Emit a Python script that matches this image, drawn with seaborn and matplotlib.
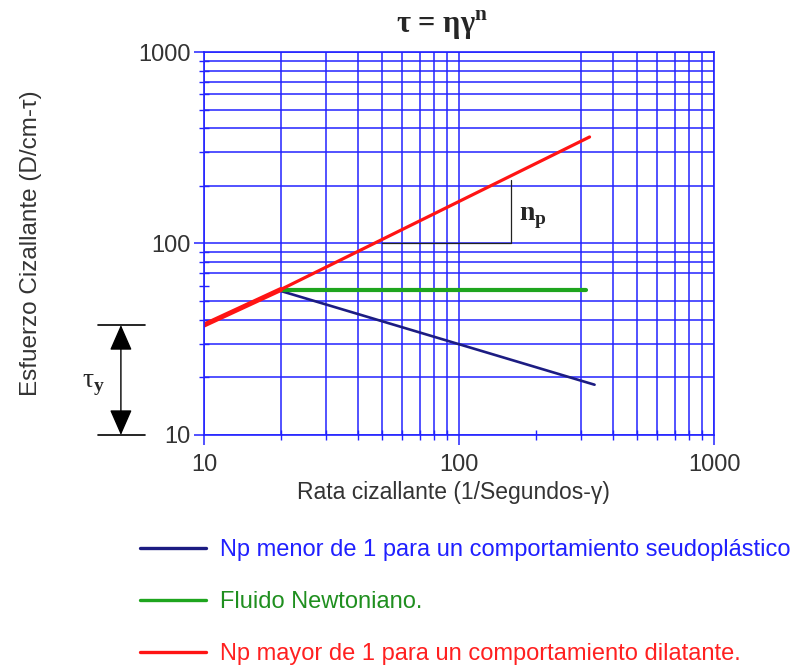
"""Curvas de flujo tau = eta * gamma^n en escala log-log."""

import matplotlib
matplotlib.use("Agg")
import matplotlib.pyplot as plt
import matplotlib.transforms as mtransforms
import numpy as np
import seaborn as sns

# Valores (ejes logarítmicos)
X_SEUDO = [20, 340]
Y_SEUDO = [56.5, 18.3]
X_NEWTON = [20, 316]
Y_NEWTON = [57.5, 57.5]
X_DILAT = [10, 20, 325]
Y_DILAT = [37.5, 57.5, 360]
NP_X = [50, 160, 160]          # triángulo de la pendiente n_p
NP_Y = [100, 100, 215]
TAU_Y = [10, 37.5]             # extremos de la cota tau_y
TICKS = [10, 100, 1000]
TICK_LABELS = ["10", "100", "1000"]
LEYENDA = [
    "Np menor de 1 para un comportamiento seudoplástico",
    "Fluido Newtoniano.",
    "Np mayor de 1 para un comportamiento dilatante.",
]

AZUL = "#2323ff"
GRIS = "#333333"

sns.set_theme(style="white")
plt.rcParams["font.family"] = ["Liberation Sans", "DejaVu Sans"]
plt.rcParams["mathtext.fontset"] = "custom"
plt.rcParams["mathtext.rm"] = "Liberation Serif"
plt.rcParams["mathtext.bf"] = "Liberation Serif:bold"

fig, ax = plt.subplots(figsize=(8.09, 6.65), dpi=100)
fig.subplots_adjust(left=0.2522, right=0.8826, bottom=0.3459, top=0.9218)

ax.set(xscale="log", yscale="log", xlim=(10, 1000), ylim=(10, 1000))

sns.lineplot(x=X_SEUDO, y=Y_SEUDO, color="#1c1c82", linewidth=1.9,
             sort=False, estimator=None, label=LEYENDA[0], ax=ax)
sns.lineplot(x=X_NEWTON, y=Y_NEWTON, color="#1ea51e", linewidth=3.0,
             sort=False, estimator=None, label=LEYENDA[1], ax=ax)
sns.lineplot(x=X_DILAT, y=Y_DILAT, color="#ff1414", linewidth=2.3,
             sort=False, estimator=None, label=LEYENDA[2], ax=ax)
# tramo inicial más grueso (trazado a mano en el original)
ax.plot(X_DILAT[:2], Y_DILAT[:2], color="#ff1414", lw=3.6)
ax.plot(NP_X, NP_Y, color="#222222", lw=0.9)

# rejilla azul tipo papel log-log
ax.grid(which="both", color=AZUL, lw=1.1)
ax.set_axisbelow(True)
for sp in ax.spines.values():
    sp.set_color(AZUL); sp.set_linewidth(1.2)
ax.set_xticks(TICKS); ax.set_xticklabels(TICK_LABELS)
ax.set_yticks(TICKS); ax.set_yticklabels(TICK_LABELS)
ax.tick_params(which="both", bottom=True, left=True, color=AZUL,
               labelcolor=GRIS, labelsize=17)
ax.tick_params(which="major", direction="out", length=7.5, width=1.1)
ax.tick_params(which="minor", direction="inout", length=6.5, width=1.0)
ax.tick_params(axis="x", which="major", pad=6)
ax.tick_params(axis="y", which="major", pad=2)

ax.set_xlabel("Rata cizallante (1/Segundos-γ)", fontsize=16.5, color=GRIS)
ax.set_ylabel("Esfuerzo Cizallante (D/cm-τ)", fontsize=17.5, color=GRIS)
ax.xaxis.set_label_coords(0.49, -0.12)
ax.yaxis.set_label_coords(-0.318, 0.5)

fig.text(0.546, 1 - 33 / 665, r"τ = ηγ$^{\mathbf{n}}$", family="Liberation Serif",
         weight="bold", fontsize=22, ha="center", va="baseline")
ax.text(172, 133, r"n$_{\mathbf{p}}$", family="Liberation Serif",
        weight="bold", fontsize=20, va="baseline")

# cota tau_y a la izquierda del eje
tr = mtransforms.blended_transform_factory(ax.transAxes, ax.transData)
for v in TAU_Y:
    ax.plot([-0.208, -0.116], [v, v], transform=tr, clip_on=False,
            color="black", lw=1.2)
ax.annotate("", xy=(-0.163, TAU_Y[0]), xytext=(-0.163, TAU_Y[1]),
            xycoords=tr, textcoords=tr, annotation_clip=False,
            arrowprops=dict(arrowstyle="<|-|>,head_length=0.8,head_width=0.35",
                            mutation_scale=20, color="black", lw=1,
                            shrinkA=0, shrinkB=0))
ax.text(-0.216, 18.2, r"τ$_{\mathbf{y}}$", transform=tr, family="Liberation Serif",
        fontsize=20, ha="center", va="center")

handles, labels = ax.get_legend_handles_labels()
leg = ax.legend(handles, labels, labelcolor=["#2020ff", "#1f8f1f", "#ff2020"],
                loc="upper left", bbox_to_anchor=(140 / 809, 1 - 539 / 665),
                bbox_transform=fig.transFigure, frameon=False, borderpad=0,
                borderaxespad=0, handlelength=2.8, handletextpad=0.6,
                labelspacing=1.27, fontsize=17)
for h in leg.get_lines():
    h.set_linewidth(2.4)

# en el original faltan las líneas de 200 (x) y 60 (y) de la rejilla
fig.canvas.draw()
for t in ax.xaxis.get_minor_ticks():
    if t.get_loc() is not None and np.isclose(t.get_loc(), 200):
        t.gridline.set_visible(False)
for t in ax.yaxis.get_minor_ticks():
    if t.get_loc() is not None and np.isclose(t.get_loc(), 60):
        t.gridline.set_visible(False)

fig.savefig("out.png", dpi=100)
plt.close(fig)
